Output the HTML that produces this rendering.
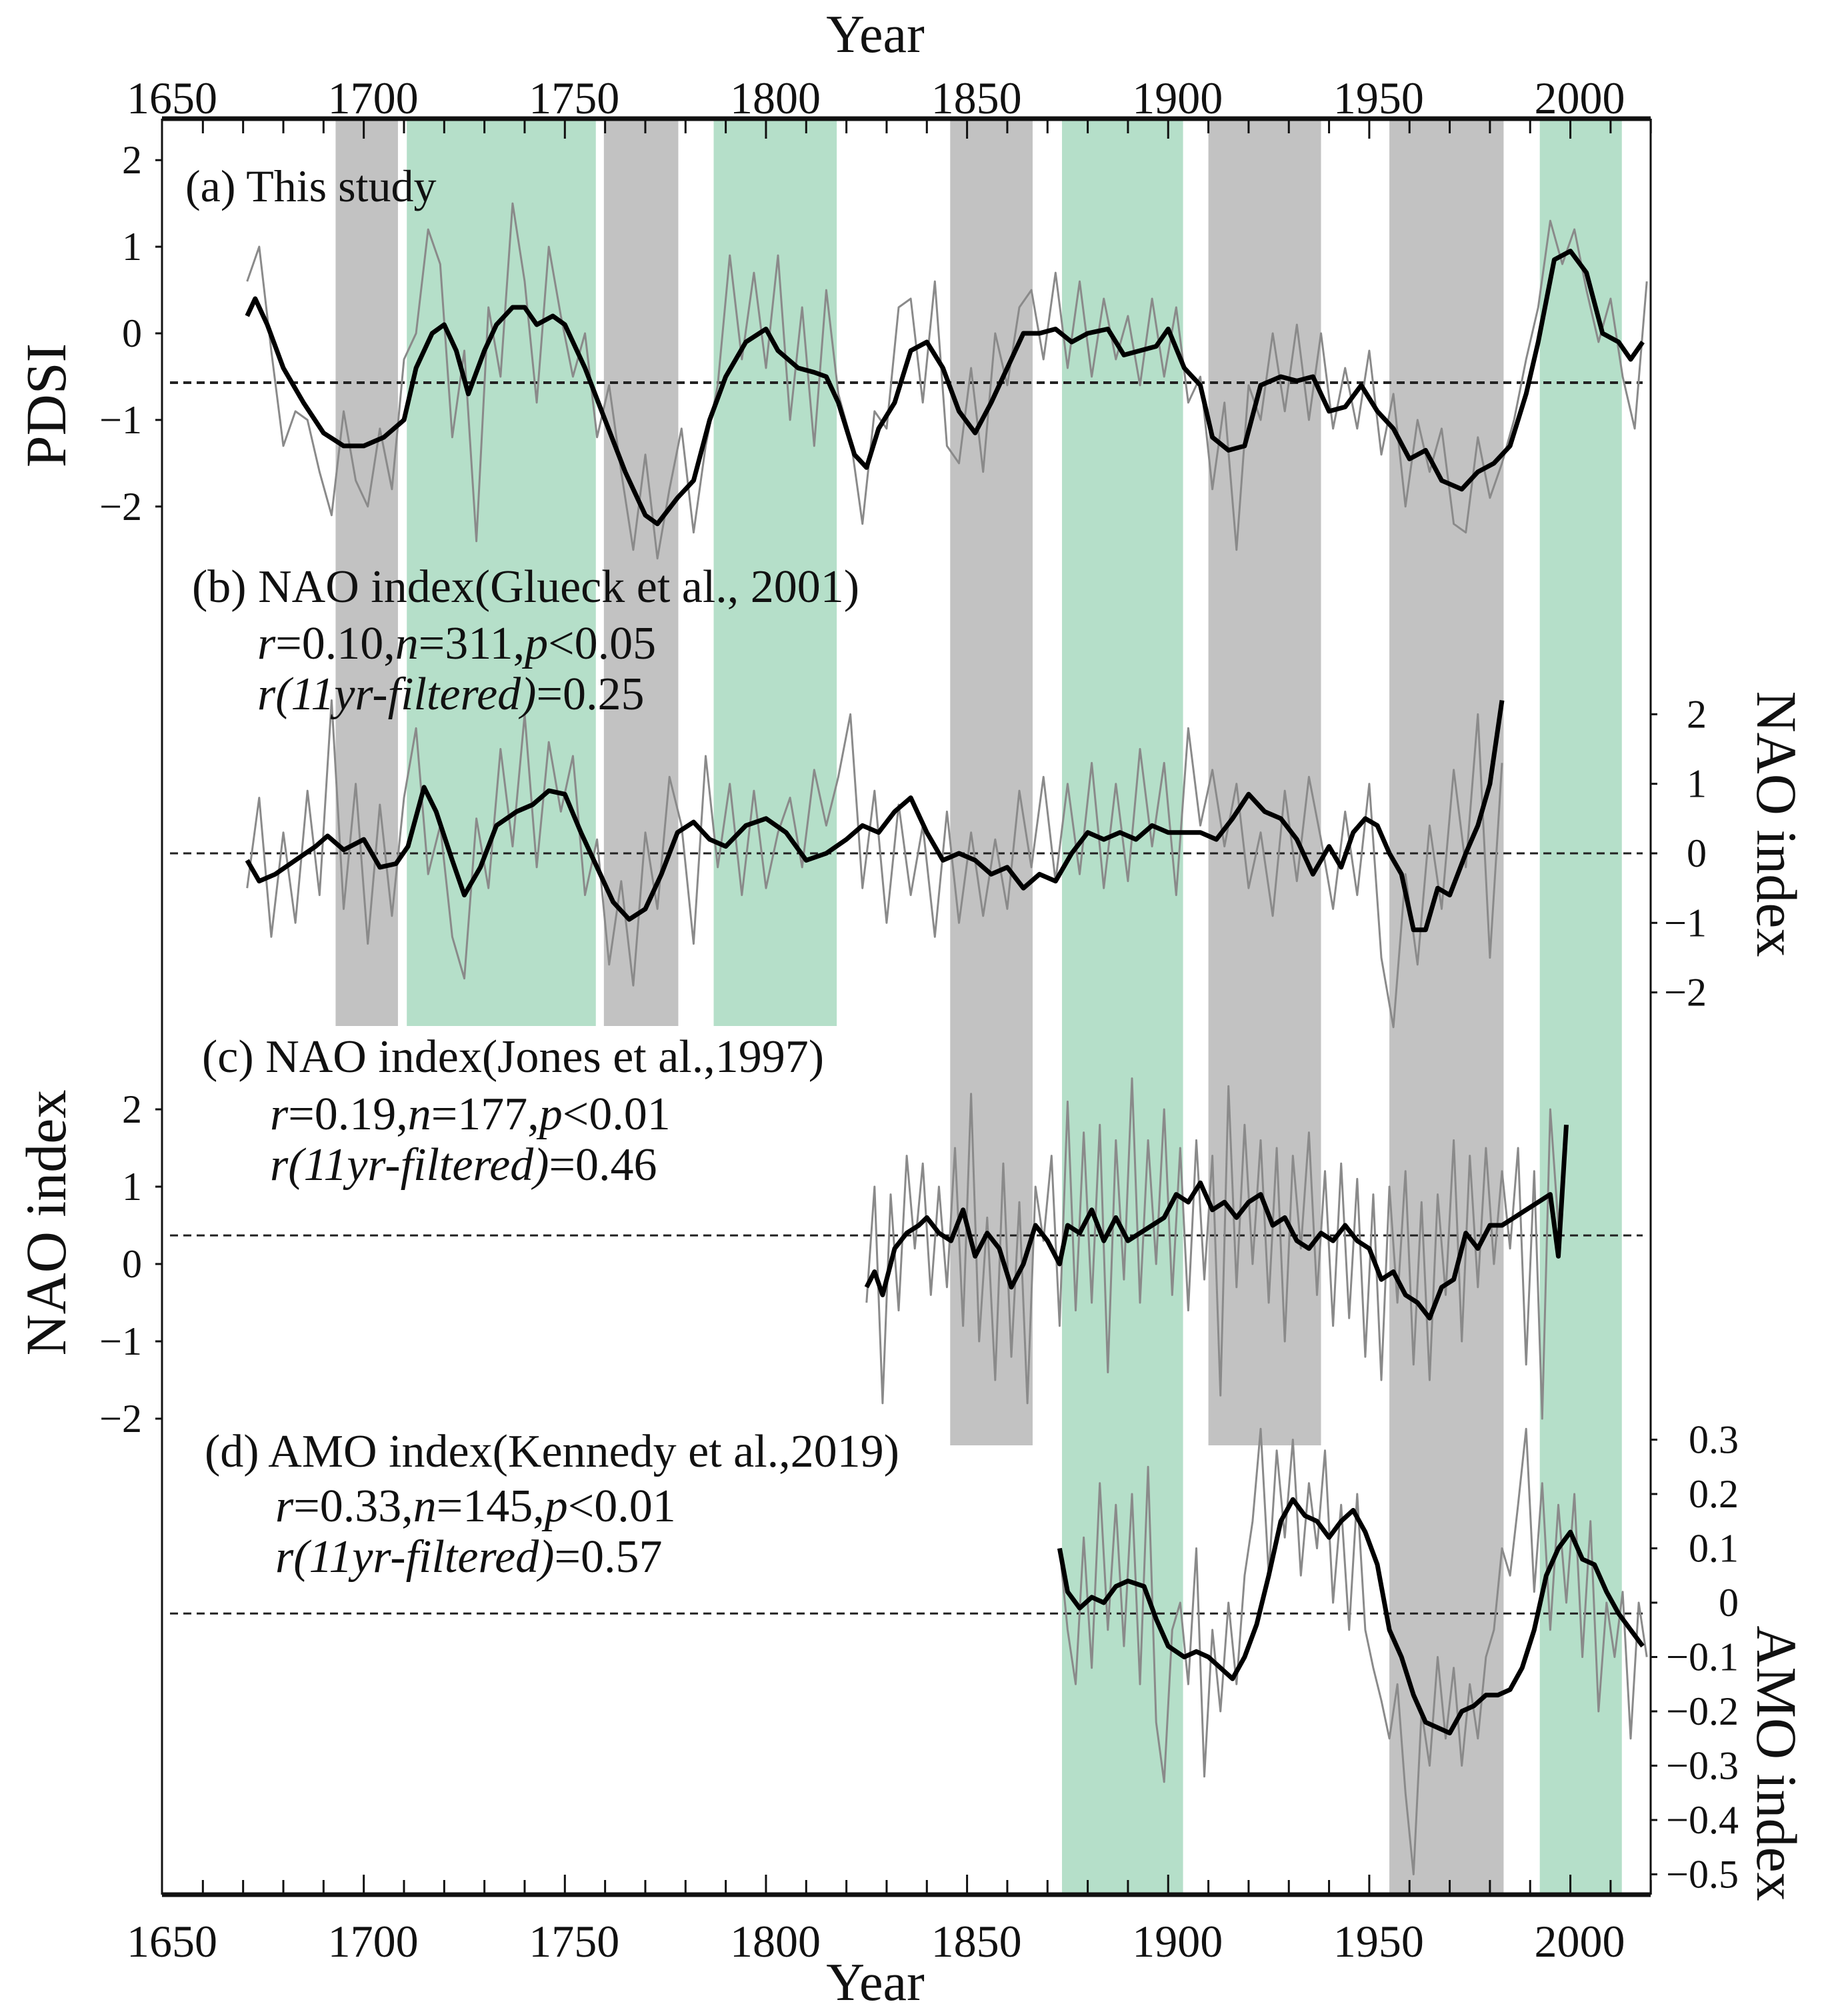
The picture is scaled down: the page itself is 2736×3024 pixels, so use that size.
<!DOCTYPE html>
<html><head><meta charset="utf-8"><style>
html,body{margin:0;padding:0;background:#fff;}
svg{display:block;font-family:"Liberation Serif",serif;}
</style></head><body>
<svg id="chart" width="2736" height="3024" viewBox="0 0 2736 3024" xmlns="http://www.w3.org/2000/svg">
<g id="bands"></g>
<g id="series"></g>
<g id="axes"></g>
<g id="labels" font-size="68" fill="#111">
<text x="1313" y="78" font-size="80" text-anchor="middle">Year</text>
<text x="1313" y="3000" font-size="80" text-anchor="middle">Year</text>
<text transform="translate(98,608) rotate(-90)" font-size="86" text-anchor="middle">PDSI</text>
<text transform="translate(98,1834) rotate(-90)" font-size="86" text-anchor="middle">NAO index</text>
<text transform="translate(2636,1236) rotate(90)" font-size="86" text-anchor="middle">NAO index</text>
<text transform="translate(2636,2645) rotate(90)" font-size="86" text-anchor="middle">AMO index</text>
<text x="278" y="302">(a) This study</text>
<text x="288" y="903" font-size="70">(b) NAO index(Glueck et al., 2001)</text>
<text x="386" y="988" font-size="70"><tspan font-style="italic">r</tspan>=0.10,<tspan font-style="italic">n</tspan>=311,<tspan font-style="italic">p</tspan>&lt;0.05</text>
<text x="386" y="1064" font-size="70"><tspan font-style="italic">r(11yr-filtered)</tspan>=0.25</text>
<text x="303" y="1608" font-size="70">(c) NAO index(Jones et al.,1997)</text>
<text x="405" y="1694" font-size="70"><tspan font-style="italic">r</tspan>=0.19,<tspan font-style="italic">n</tspan>=177,<tspan font-style="italic">p</tspan>&lt;0.01</text>
<text x="405" y="1770" font-size="70"><tspan font-style="italic">r(11yr-filtered)</tspan>=0.46</text>
<text x="307" y="2200" font-size="70">(d)  AMO index(Kennedy et al.,2019)</text>
<text x="413" y="2282" font-size="70"><tspan font-style="italic">r</tspan>=0.33,<tspan font-style="italic">n</tspan>=145,<tspan font-style="italic">p</tspan>&lt;0.01</text>
<text x="413" y="2358" font-size="70"><tspan font-style="italic">r(11yr-filtered)</tspan>=0.57</text>
</g>
</svg>
<script>
// ---- data ----
const bandStart=[1693,1710.7,1759.7,1787,1845.8,1873.6,1910,1955,1992.4];
const bandEnd=[1708.5,1757.7,1778.2,1817.6,1866.3,1903.7,1938,1983.4,2012.8];
const bandKind=['gray','green','gray','green','gray','green','gray','gray','green'];
const bandBottom=[1539,1539,1539,1539,2168,2842,2168,2842,2842];

const pdsiSmYears=[1671,1673,1676,1680,1685,1690,1695,1700,1705,1710,1713,1717,1720,1723,1726,1730,1733,1737,1740,1743,1747,1750,1755,1760,1765,1770,1773,1778,1782,1786,1790,1795,1800,1803,1808,1812,1815,1818,1822,1825,1828,1832,1836,1840,1844,1848,1852,1856,1860,1864,1868,1872,1876,1880,1885,1889,1893,1897,1900,1904,1908,1911,1915,1919,1923,1928,1932,1936,1940,1944,1948,1952,1956,1960,1964,1968,1973,1977,1981,1985,1989,1992,1996,2000,2004,2008,2012,2015,2018];
const pdsiSm=[0.2,0.4,0.1,-0.4,-0.8,-1.15,-1.3,-1.3,-1.2,-1.0,-0.4,0,0.1,-0.2,-0.7,-0.2,0.1,0.3,0.3,0.1,0.2,0.1,-0.4,-1.0,-1.6,-2.1,-2.2,-1.9,-1.7,-1.0,-0.5,-0.1,0.05,-0.2,-0.4,-0.45,-0.5,-0.8,-1.4,-1.55,-1.1,-0.8,-0.2,-0.1,-0.4,-0.9,-1.15,-0.8,-0.4,0,0,0.05,-0.1,0,0.05,-0.25,-0.2,-0.15,0.05,-0.4,-0.6,-1.2,-1.35,-1.3,-0.6,-0.5,-0.55,-0.5,-0.9,-0.85,-0.6,-0.9,-1.1,-1.45,-1.35,-1.7,-1.8,-1.6,-1.5,-1.3,-0.7,-0.1,0.85,0.95,0.7,0,-0.1,-0.3,-0.1];
const pdsiRawStart=1671, pdsiRawStep=3;
const pdsiRaw=[0.6,1.0,-0.2,-1.3,-0.9,-1.0,-1.6,-2.1,-0.9,-1.7,-2.0,-1.1,-1.8,-0.3,0.0,1.2,0.8,-1.2,-0.2,-2.4,0.3,-0.5,1.5,0.6,-0.8,1.0,0.2,-0.5,0.0,-1.2,-0.6,-1.6,-2.5,-1.4,-2.6,-1.8,-1.1,-2.3,-1.3,-0.6,0.9,-0.3,0.7,-0.4,0.9,-1.0,0.3,-1.3,0.5,-0.7,-1.2,-2.2,-0.9,-1.1,0.3,0.4,-0.8,0.6,-1.3,-1.5,-0.4,-1.6,0.0,-0.6,0.3,0.5,-0.3,0.7,-0.4,0.6,-0.5,0.4,-0.3,0.2,-0.6,0.4,-0.5,0.3,-0.8,-0.5,-1.8,-0.8,-2.5,-0.6,-1.0,0.0,-0.9,0.1,-1.0,0.0,-1.1,-0.4,-1.1,-0.2,-1.4,-0.7,-2.0,-1.0,-1.6,-1.1,-2.2,-2.3,-1.2,-1.9,-1.5,-1.0,-0.3,0.3,1.3,0.8,1.2,0.5,-0.1,0.4,-0.5,-1.1,0.6];

const naoBSmYears=[1671,1674,1678,1683,1688,1691,1695,1700,1704,1708,1711,1715,1718,1722,1725,1729,1733,1738,1742,1746,1750,1754,1758,1762,1766,1770,1774,1778,1782,1786,1790,1795,1800,1805,1810,1815,1820,1824,1828,1832,1836,1840,1844,1848,1852,1856,1860,1864,1868,1872,1876,1880,1884,1888,1892,1896,1900,1904,1908,1912,1916,1920,1924,1928,1932,1936,1940,1943,1946,1949,1952,1955,1958,1961,1964,1967,1970,1974,1977,1980,1983];
const naoBSm=[-0.1,-0.4,-0.3,-0.1,0.1,0.25,0.05,0.2,-0.2,-0.15,0.1,0.95,0.6,-0.1,-0.6,-0.2,0.4,0.6,0.7,0.9,0.85,0.3,-0.2,-0.7,-0.95,-0.8,-0.3,0.3,0.45,0.2,0.1,0.4,0.5,0.3,-0.1,0.0,0.2,0.4,0.3,0.6,0.8,0.3,-0.1,0.0,-0.1,-0.3,-0.2,-0.5,-0.3,-0.4,0.0,0.3,0.2,0.3,0.2,0.4,0.3,0.3,0.3,0.2,0.5,0.85,0.6,0.5,0.2,-0.3,0.1,-0.2,0.3,0.5,0.4,0.0,-0.3,-1.1,-1.1,-0.5,-0.6,0.0,0.4,1.0,2.2];
const naoBRawStart=1671, naoBRawStep=3;
const naoBRaw=[-0.5,0.8,-1.2,0.3,-1.0,0.9,-0.6,2.2,-0.8,1.0,-1.3,0.7,-0.9,0.8,1.8,-0.3,0.4,-1.2,-1.8,0.5,-0.5,1.5,0.1,2.0,-0.2,1.6,0.6,1.4,-0.6,0.2,-1.6,-0.4,-1.9,0.3,-0.8,1.1,0.4,-1.3,1.4,-0.2,1.0,-0.6,0.9,-0.5,0.3,0.8,-0.2,1.2,0.4,1.1,2.0,-0.5,0.9,-1.0,0.7,-0.6,0.4,-1.2,0.6,-1.0,0.3,-0.9,0.2,-0.8,0.9,-0.2,1.1,-0.4,1.0,-0.3,1.3,-0.5,1.0,-0.4,1.5,0.1,1.3,-0.6,1.8,0.4,1.2,0.1,1.0,-0.5,0.3,-0.9,0.9,-0.4,1.1,0.2,-0.8,0.6,-0.6,1.0,-1.5,-2.5,-0.3,-1.6,0.4,-0.8,1.2,-0.2,2.0,-1.5,1.3];

const naoCSmYears=[1825,1827,1829,1832,1835,1838,1840,1843,1846,1849,1852,1855,1858,1861,1864,1867,1870,1873,1875,1878,1881,1884,1887,1890,1893,1896,1899,1902,1905,1908,1911,1914,1917,1920,1923,1926,1929,1932,1935,1938,1941,1944,1947,1950,1953,1956,1959,1962,1965,1968,1971,1974,1977,1980,1983,1986,1989,1992,1995,1997,1999];
const naoCSm=[-0.3,-0.1,-0.4,0.2,0.4,0.5,0.6,0.4,0.3,0.7,0.1,0.4,0.2,-0.3,0.0,0.5,0.3,0.0,0.5,0.4,0.7,0.3,0.6,0.3,0.4,0.5,0.6,0.9,0.8,1.05,0.7,0.8,0.6,0.8,0.9,0.5,0.6,0.3,0.2,0.4,0.3,0.5,0.3,0.2,-0.2,-0.1,-0.4,-0.5,-0.7,-0.3,-0.2,0.4,0.2,0.5,0.5,0.6,0.7,0.8,0.9,0.1,1.8];
const naoCRawStart=1825, naoCRawStep=2;
const naoCRaw=[-0.5,1.0,-1.8,0.9,-0.6,1.4,0.2,1.3,-0.4,1.0,-0.3,1.5,-0.8,2.2,-1.0,0.6,-1.5,1.3,-1.2,0.8,-1.8,1.0,0.3,1.4,-0.8,2.1,-0.6,1.7,-0.5,1.8,-1.4,1.6,-0.2,2.4,-0.5,1.6,0.0,2.0,-0.4,1.5,-0.6,1.6,-0.2,1.4,-1.7,2.3,-0.3,1.8,0.0,1.6,-0.5,1.5,-1.0,1.4,0.2,1.7,-0.4,1.2,-0.8,1.3,-0.7,1.1,-1.2,0.9,-1.5,1.0,-0.5,1.2,-1.3,0.8,-1.5,0.9,-0.4,1.6,-1.0,1.4,-0.3,1.5,0.0,1.2,0.2,1.5,-1.3,1.2,-2.0,2.0,0.5,1.6];

const amoSmYears=[1873,1875,1878,1881,1884,1887,1890,1894,1897,1900,1904,1907,1910,1913,1916,1919,1922,1925,1928,1931,1934,1937,1940,1943,1946,1949,1952,1955,1958,1961,1964,1967,1970,1973,1976,1979,1982,1985,1988,1991,1994,1997,2000,2003,2006,2009,2012,2015,2018];
const amoSm=[0.1,0.02,-0.01,0.01,0.0,0.03,0.04,0.03,-0.03,-0.08,-0.1,-0.09,-0.1,-0.12,-0.14,-0.1,-0.04,0.05,0.15,0.19,0.16,0.15,0.12,0.15,0.17,0.13,0.07,-0.05,-0.1,-0.17,-0.22,-0.23,-0.24,-0.2,-0.19,-0.17,-0.17,-0.16,-0.12,-0.05,0.05,0.1,0.13,0.08,0.07,0.02,-0.02,-0.05,-0.08];
const amoRawStart=1873, amoRawStep=2;
const amoRaw=[0.1,-0.05,-0.15,0.12,-0.12,0.22,-0.05,0.18,-0.08,0.2,-0.15,0.25,-0.22,-0.33,-0.05,0.0,-0.15,0.1,-0.32,-0.05,-0.2,0.0,-0.15,0.05,0.15,0.32,0.05,0.28,0.12,0.3,0.05,0.22,0.1,0.28,0.0,0.18,-0.05,0.2,-0.05,-0.12,-0.18,-0.25,-0.15,-0.35,-0.5,-0.2,-0.3,-0.1,-0.25,-0.12,-0.3,-0.15,-0.25,-0.1,-0.05,0.1,0.05,0.18,0.32,0.02,0.22,-0.05,0.18,0.0,0.2,-0.1,0.15,-0.2,0.0,-0.1,0.02,-0.25,0.0,-0.1];

const pdsiTicks=[2,1,0,-1,-2];
const naoBTicks=[2,1,0,-1,-2];
const naoCTicks=[2,1,0,-1,-2];
const amoTicks=[0.3,0.2,0.1,0,-0.1,-0.2,-0.3,-0.4,-0.5];
const yearTicks=[1650,1700,1750,1800,1850,1900,1950,2000];

// ---- scales ----
const L=243,R=2476,T=178,B=2842;
const xS=y=>244+(y-1650)*6.033;
const yPDSI=v=>500-v*129.9;
const yNAOB=v=>1280-v*104.3;
const yNAOC=v=>1896-v*116;
const yAMO=v=>2404-v*815;
const NS='http://www.w3.org/2000/svg';
function mk(tag,attrs,parent){const e=document.createElementNS(NS,tag);for(const k in attrs)e.setAttribute(k,attrs[k]);parent.appendChild(e);return e;}
const fmt=v=>(v<0?'\u2212'+String(-v):String(v));

// bands
const bg=document.getElementById('bands');
bandStart.forEach((s,i)=>{
  const r=mk('rect',{x:xS(s),y:T,width:xS(bandEnd[i])-xS(s),height:bandBottom[i]-T,fill:bandKind[i]==='gray'?'#c2c2c2':'#b5dfc9'},bg);
  
  
});

// series
const sg=document.getElementById('series');
function line(xs,ys,yf,stroke,w,name){
  const d=xs.map((x,i)=>(i?'L':'M')+xS(x).toFixed(1)+','+yf(ys[i]).toFixed(1)).join('');
  const p=mk('path',{d:d,fill:'none',stroke:stroke,'stroke-width':w,'stroke-linejoin':'round'},sg);
  
  
}
function raw(start,step,vals,yf,name,endYear){
  const xs=[],ys=[];
  vals.forEach((v,i)=>{const yr=start+i*step; if(yr<=endYear){xs.push(yr);ys.push(v);}});
  line(xs,ys,yf,'#8a8a8a',3,name);
}
function dash(yv,name,w){
  const l=mk('line',{x1:L+12,x2:R-12,y1:yv,y2:yv,stroke:'#222','stroke-width':w,'stroke-dasharray':'12,8'},sg);
  
  
}
dash(yPDSI(-0.57),'pdsi-mean-line',4);
dash(yNAOB(0),'nao-b-zero-line',3);
dash(yNAOC(0.37),'nao-c-mean-line',3);
dash(yAMO(-0.02),'amo-mean-line',3);
raw(pdsiRawStart,pdsiRawStep,pdsiRaw,yPDSI,'pdsi-annual-line',2019);
raw(naoBRawStart,naoBRawStep,naoBRaw,yNAOB,'nao-b-annual-line',1983);
raw(naoCRawStart,naoCRawStep,naoCRaw,yNAOC,'nao-c-annual-line',2000);
raw(amoRawStart,amoRawStep,amoRaw,yAMO,'amo-annual-line',2019);
line(pdsiSmYears,pdsiSm,yPDSI,'#000',7,'pdsi-smoothed-line');
line(naoBSmYears,naoBSm,yNAOB,'#000',7,'nao-b-smoothed-line');
line(naoCSmYears,naoCSm,yNAOC,'#000',7,'nao-c-smoothed-line');
line(amoSmYears,amoSm,yAMO,'#000',7,'amo-smoothed-line');

// axes
const ag=document.getElementById('axes');
function ln(x1,y1,x2,y2,w,name){const l=mk('line',{x1:x1,y1:y1,x2:x2,y2:y2,stroke:'#111','stroke-width':w},ag);}
ln(L,T,R,T,7,'top-axis-line');
ln(L,B,R,B,7,'bottom-axis-line');
ln(L,T,L,B,3,'left-axis-line');
ln(R,T,R,B,3,'right-axis-line');
for(let yr=1660;yr<=2020;yr+=10){
  const x=xS(yr),len=(yr%50===0)?30:22;
  ln(x,T,x,T+len,3,'top-tick');
  ln(x,B,x,B-len,3,'bottom-tick');
}
function txt(x,y,s,anchor,name,size){const t=mk('text',{x:x,y:y,'text-anchor':anchor,'font-size':size||52,fill:'#111'},ag);t.textContent=s;}
yearTicks.forEach(yr=>{
  txt(xS(yr)+14,170,String(yr),'middle','top-year-label',68);
  txt(xS(yr)+14,2935,String(yr),'middle','bottom-year-label',68);
});
pdsiTicks.forEach(v=>{const y=yPDSI(v);ln(L-10,y,L,y,3,'pdsi-tick');txt(L-30,y+20,fmt(v),'end','pdsi-tick-label',60);});
naoCTicks.forEach(v=>{const y=yNAOC(v);ln(L-10,y,L,y,3,'nao-c-tick');txt(L-30,y+20,fmt(v),'end','nao-c-tick-label',60);});
naoBTicks.forEach(v=>{const y=yNAOB(v);ln(R,y,R+10,y,3,'nao-b-tick');txt(R+84,y+20,fmt(v),'end','nao-b-tick-label',60);});
amoTicks.forEach(v=>{const y=yAMO(v);ln(R,y,R+10,y,3,'amo-tick');txt(R+132,y+20,fmt(v),'end','amo-tick-label',60);});
</script>
</body></html>
